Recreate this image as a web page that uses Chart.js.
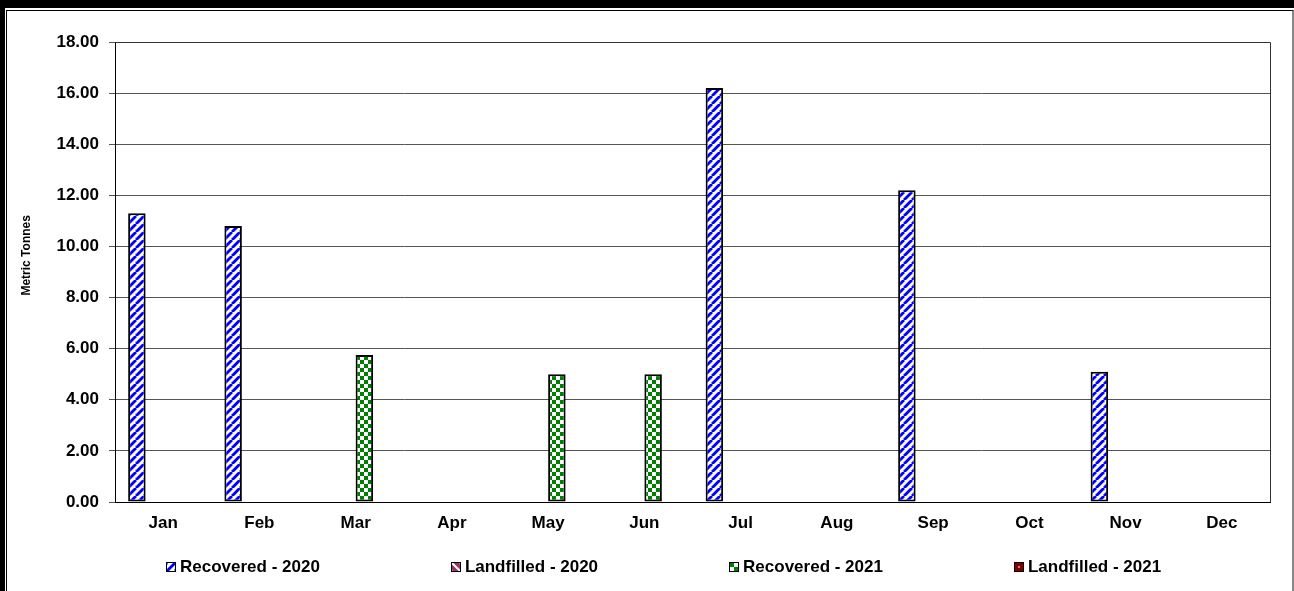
<!DOCTYPE html>
<html>
<head>
<meta charset="utf-8">
<title>Metric Tonnes by month</title>
<script src="https://cdn.jsdelivr.net/npm/chart.js@4/dist/chart.umd.min.js"></script>
<style>
    body { margin: 0; background: #fff; }
    #frame { position: relative; width: 1294px; height: 591px; overflow: hidden; background: #fff; font-family: Arial, "Liberation Sans", sans-serif; }
    .band-top { position: absolute; left: 0; top: 0; width: 1294px; height: 8px; background: #000; }
    .band-left { position: absolute; left: 0; top: 0; width: 5px; height: 591px; background: #000; }
    .inner { position: absolute; left: 6px; top: 10px; width: 1285px; height: 600px; border-top: 1px solid #000; border-left: 1px solid #000; border-right: 2px solid #888; }
    #chart { position: absolute; left: 0; top: 0; }
    #legend { position: absolute; left: 166px; top: 556px; display: flex; gap: 131px; font-weight: bold; font-size: 17px; line-height: 22px; color: #000; white-space: nowrap; }
    .legend-item { display: flex; align-items: center; }
    .legend-item canvas { width: 8px; height: 8px; border: 1px solid #000; margin-right: 4px; }
</style>
</head>
<body>
<div id="frame">
    <div class="band-top"></div>
    <div class="band-left"></div>
    <div class="inner"></div>
    <canvas id="chart" width="1294" height="591"></canvas>
    <div id="legend"></div>
</div>
<script>
// Data
const months = ['Jan', 'Feb', 'Mar', 'Apr', 'May', 'Jun', 'Jul', 'Aug', 'Sep', 'Oct', 'Nov', 'Dec'];
const recovered2020 = [11.3, 10.8, null, null, null, null, 16.2, null, 12.2, null, 5.1, null];
const landfilled2020 = [null, null, null, null, null, null, null, null, null, null, null, null];
const recovered2021 = [null, null, 5.75, null, 5.0, 5.0, null, null, null, null, null, null];
const landfilled2021 = [null, null, null, null, null, null, null, null, null, null, null, null];
const seriesNames = ['Recovered - 2020', 'Landfilled - 2020', 'Recovered - 2021', 'Landfilled - 2021'];
const yTickValues = [0, 2, 4, 6, 8, 10, 12, 14, 16, 18];

// Build a small tile canvas for a fill pattern
function makeTile(kind) {
    const c = document.createElement('canvas');
    const s = 8;
    c.width = s;
    c.height = s;
    const g = c.getContext('2d');
    if (kind === 'blueStripe') {
        g.fillStyle = '#fff';
        g.fillRect(0, 0, s, s);
        g.strokeStyle = '#0000ff';
        g.lineWidth = 2.8;
        [-s, 0, s].forEach(o => {
            g.beginPath();
            g.moveTo(o, s);
            g.lineTo(o + s, 0);
            g.stroke();
        });
    } else if (kind === 'purpleStripe') {
        g.fillStyle = '#993366';
        g.fillRect(0, 0, s, s);
        g.strokeStyle = '#fff';
        g.lineWidth = 2;
        [-s, 0, s].forEach(o => {
            g.beginPath();
            g.moveTo(o, 0);
            g.lineTo(o + s, s);
            g.stroke();
        });
    } else if (kind === 'greenCheck') {
        g.fillStyle = '#fff';
        g.fillRect(0, 0, s, s);
        g.fillStyle = '#008000';
        g.fillRect(0, 0, 4, 4);
        g.fillRect(4, 4, 4, 4);
    } else {
        g.fillStyle = '#800000';
        g.fillRect(0, 0, s, s);
        g.fillStyle = '#ff6666';
        g.fillRect(3, 3, 2, 2);
    }
    return c;
}

const tileKinds = ['blueStripe', 'purpleStripe', 'greenCheck', 'redDot'];
const seriesData = [recovered2020, landfilled2020, recovered2021, landfilled2021];

const ctx = document.getElementById('chart').getContext('2d');
const patterns = tileKinds.map(k => ctx.createPattern(makeTile(k), 'repeat'));

// Outline of the plot area (top and right edge)
const plotBorder = {
    id: 'plotBorder',
    afterDatasetsDraw(chart) {
        const a = chart.chartArea;
        const c = chart.ctx;
        c.save();
        c.strokeStyle = '#333';
        c.lineWidth = 1;
        c.beginPath();
        c.moveTo(a.left, a.top + 0.5);
        c.lineTo(a.right + 0.5, a.top + 0.5);
        c.lineTo(a.right + 0.5, a.bottom);
        c.stroke();
        c.restore();
    }
};

const tickFont = { family: 'Arial, "Liberation Sans", sans-serif', size: 17, weight: 'bold' };

const chart = new Chart(ctx, {
    type: 'bar',
    data: {
        labels: months,
        datasets: seriesNames.map((name, i) => ({
            label: name,
            data: seriesData[i],
            backgroundColor: patterns[i],
            borderColor: '#000',
            borderWidth: 2,
            borderSkipped: false,
            categoryPercentage: 0.727,
            barPercentage: 1.0
        }))
    },
    options: {
        responsive: false,
        animation: false,
        layout: { padding: { left: 0, top: 42, right: 24, bottom: 54 } },
        plugins: {
            legend: { display: false },
            tooltip: { enabled: false }
        },
        scales: {
            x: {
                grid: { display: false },
                border: { color: '#000', width: 1 },
                ticks: { color: '#000', font: tickFont, padding: 3, maxRotation: 0, autoSkip: false },
                afterFit: s => { s.height = 35; }
            },
            y: {
                min: 0,
                max: 18,
                afterBuildTicks: s => { s.ticks = yTickValues.map(v => ({ value: v })); },
                ticks: {
                    color: '#000',
                    font: tickFont,
                    padding: 10,
                    callback: v => Number(v).toFixed(2)
                },
                grid: { color: '#555', tickLength: 6, tickColor: '#555' },
                border: { color: '#000', width: 1 },
                title: {
                    display: true,
                    // leading spaces lift the visible words a little, as in the original
                    text: '\u00a0\u00a0\u00a0\u00a0\u00a0\u00a0\u00a0\u00a0\u00a0\u00a0Metric Tonnes',
                    color: '#000',
                    font: { family: 'Arial, "Liberation Sans", sans-serif', size: 12, weight: 'bold' },
                    padding: { top: 19, bottom: 0 }
                },
                afterFit: s => { s.width = 115; }
            }
        }
    },
    plugins: [plotBorder]
});

// HTML legend built from the chart's datasets
const legend = document.getElementById('legend');
chart.data.datasets.forEach((ds, i) => {
    const item = document.createElement('div');
    item.className = 'legend-item';
    const sw = document.createElement('canvas');
    sw.width = 8;
    sw.height = 8;
    const sctx = sw.getContext('2d');
    sctx.fillStyle = sctx.createPattern(makeTile(tileKinds[i]), 'repeat');
    sctx.fillRect(0, 0, 8, 8);
    const txt = document.createElement('span');
    txt.textContent = ds.label;
    item.appendChild(sw);
    item.appendChild(txt);
    legend.appendChild(item);
});
</script>
</body>
</html>
